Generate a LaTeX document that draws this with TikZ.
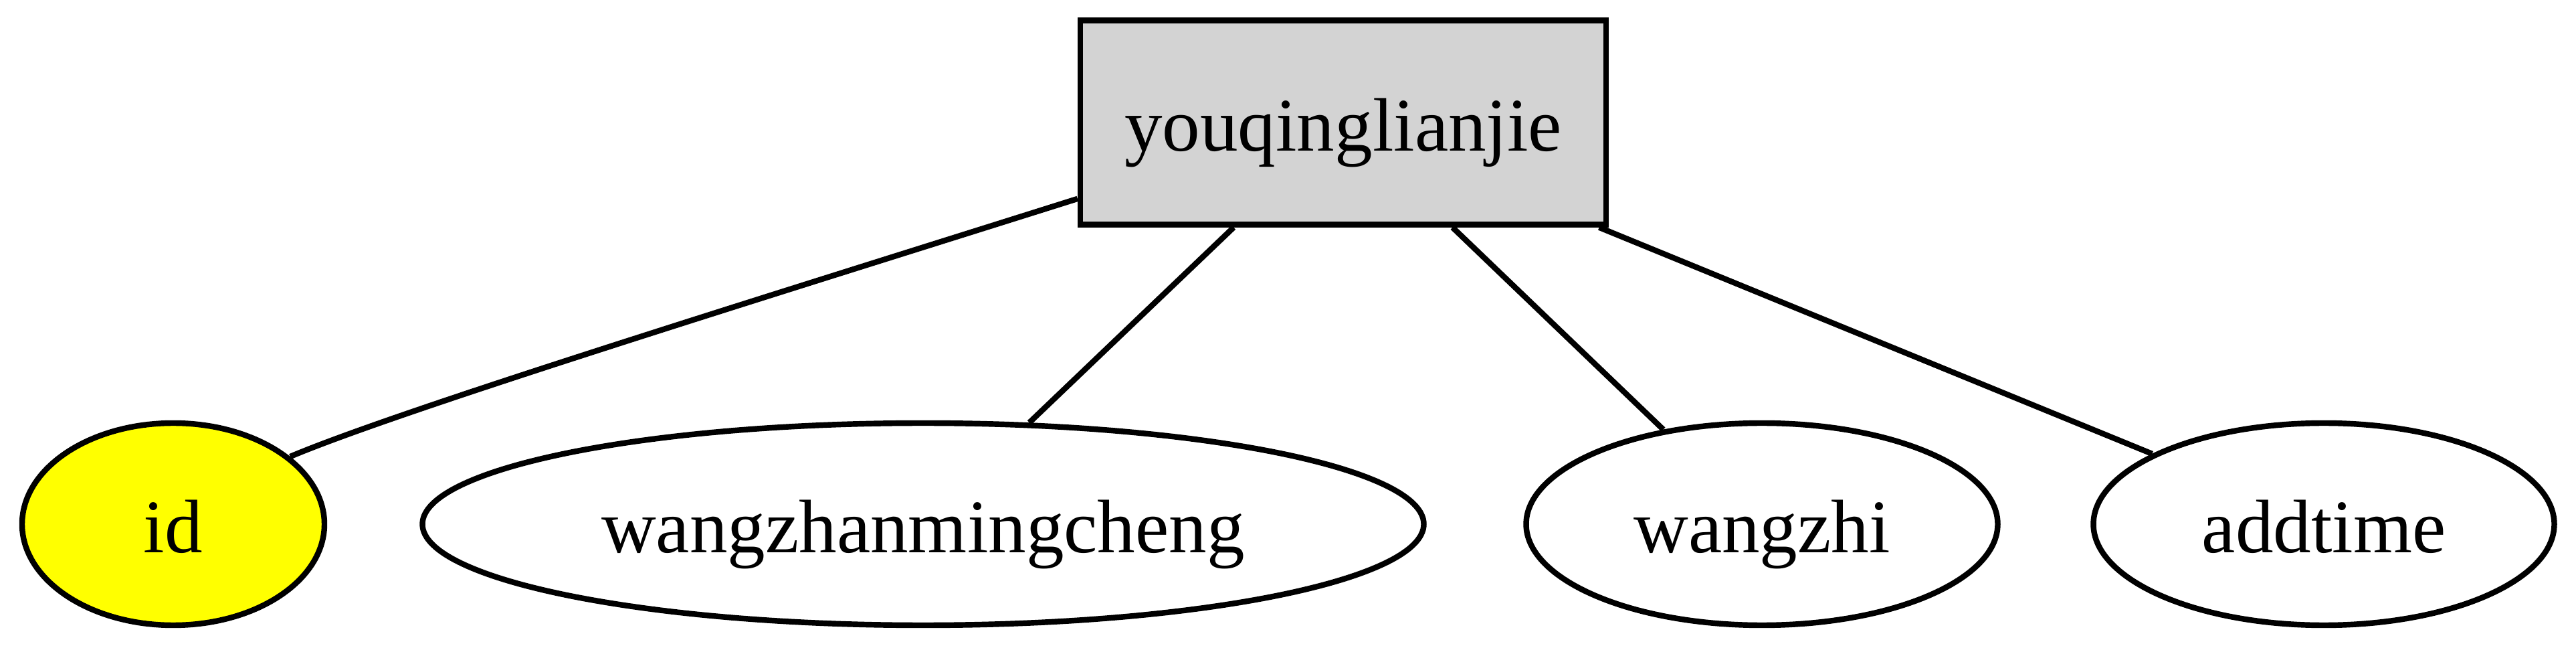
\documentclass[tikz,border=0pt]{standalone}
\usepackage{fontspec}
\setmainfont{Liberation Serif}
\usetikzlibrary{shapes.geometric}

\definecolor{keyyellow}{RGB}{255,255,0}
\definecolor{tablegray}{RGB}{211,211,211}

\tikzset{
    tablebox/.style={draw, rectangle, fill=tablegray, line width=2.4pt, minimum width=7.86cm, minimum height=3.05cm, inner sep=0pt, text height=24.4pt, text depth=0pt},
    fieldnode/.style={draw, ellipse, line width=2.4pt, minimum height=3.02cm, inner sep=0pt, text height=24.4pt, text depth=0pt},
    link/.style={line width=2.4pt}
}

\begin{document}
\begin{tikzpicture}[font=\fontsize{32.2}{38}\selectfont]
    \useasboundingbox (0,0) rectangle (38.51,9.67); % page size
    \node[tablebox] (tbl) at (20.08,7.84) {youqinglianjie};
    \node[fieldnode, fill=keyyellow, minimum width=4.52cm] (id) at (2.59,1.84) {id};
    \node[fieldnode, minimum width=14.97cm] (wzmc) at (13.80,1.84) {wangzhanmingcheng};
    \node[fieldnode, minimum width=7.05cm] (wangzhi) at (26.34,1.84) {wangzhi};
    \node[fieldnode, minimum width=6.89cm] (addtime) at (34.74,1.84) {addtime};
    \draw[link] (id.30) .. controls (6.0,3.55) and (11.5,5.25) .. (tbl.196); % bent edge
    \foreach \f in {wzmc,wangzhi,addtime} % straight edges
        \draw[link] (tbl) -- (\f);
\end{tikzpicture}
\end{document}
